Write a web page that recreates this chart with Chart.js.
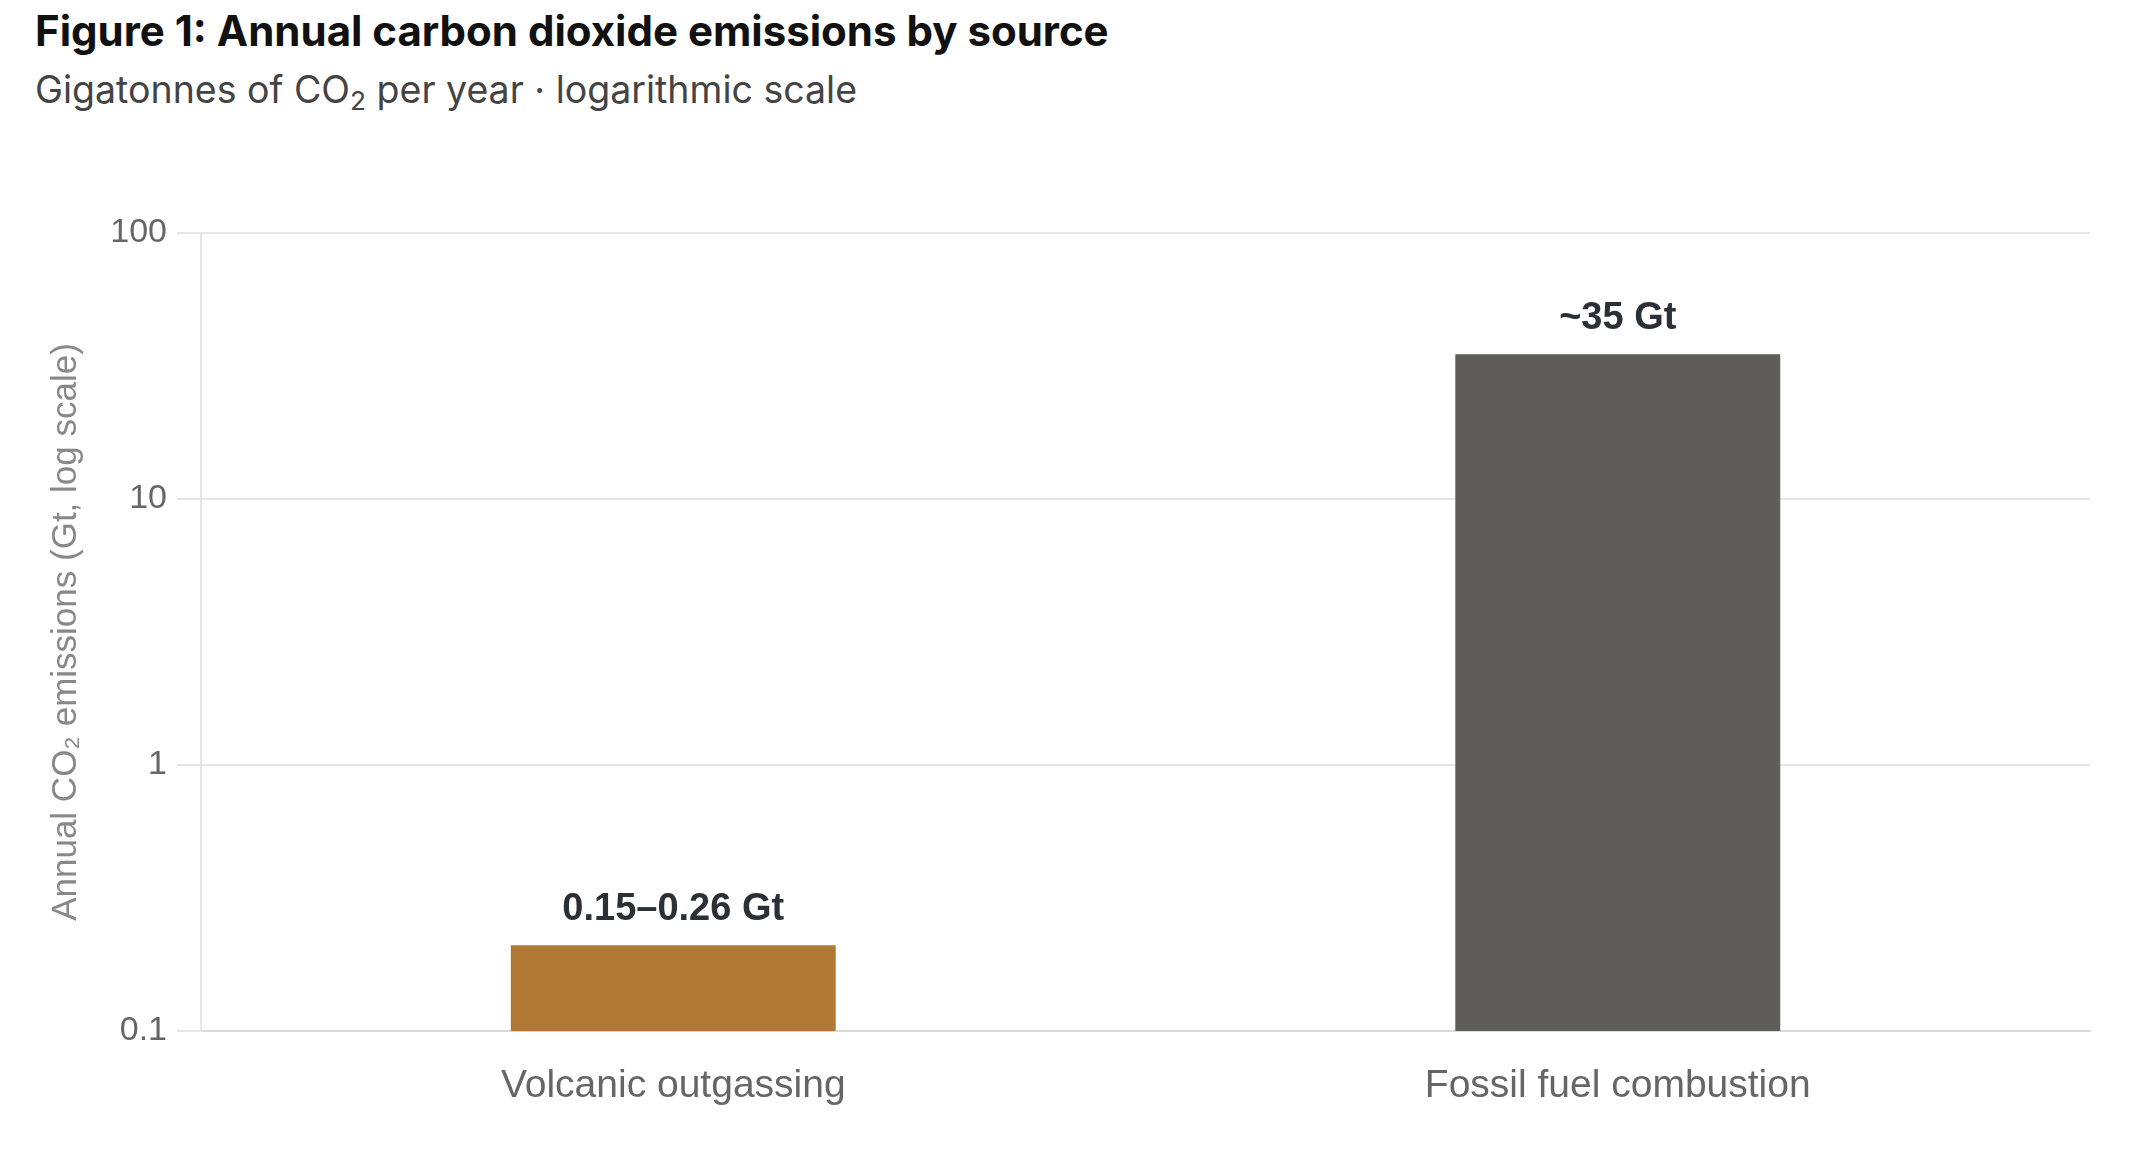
<!DOCTYPE html>
<html>
<head>
<meta charset="utf-8">
<title>Annual carbon dioxide emissions by source</title>
<script src="https://cdn.jsdelivr.net/npm/chart.js@4.4.1/dist/chart.umd.min.js"></script>
<style>
  html, body { margin: 0; padding: 0; background: #fff; }
  body { width: 2144px; height: 1172px; position: relative; overflow: hidden; }
  #chart { position: absolute; left: 0; top: 0; }
  .head { position: absolute; left: 35px; white-space: nowrap; font-family: Inter, "Liberation Sans", sans-serif; }
  #title { top: 10px; font-size: 42px; line-height: 42px; font-weight: 700; color: #111; }
  #subtitle { top: 71px; font-size: 37.5px; line-height: 37.5px; color: #444; }
  #subtitle sub { font-size: 0.7em; vertical-align: -0.25em; line-height: 0; }
</style>
</head>
<body>
<div class="head" id="title">Figure 1: Annual carbon dioxide emissions by source</div>
<div class="head" id="subtitle">Gigatonnes of CO<sub>2</sub> per year · logarithmic scale</div>
<canvas id="chart" width="2144" height="1172"></canvas>
<script>
// Valores (Gt CO2 por ano)
const categories = ['Volcanic outgassing', 'Fossil fuel combustion'];
const emissions = [0.21, 35];
const barLabels = ['0.15–0.26 Gt', '~35 Gt'];
const barColors = ['#b07832', '#5e5d58'];
const yTicks = [0.1, 1, 10, 100];

// Rótulo em negrito acima de cada barra
const barLabelPlugin = {
    id: 'barLabels',
    afterDatasetsDraw(chart) {
        const ctx = chart.ctx;
        const meta = chart.getDatasetMeta(0);
        ctx.save();
        ctx.font = '700 38px "Liberation Sans", Arial, sans-serif';
        ctx.fillStyle = '#2b2f36';
        ctx.textAlign = 'center';
        ctx.textBaseline = 'alphabetic';
        meta.data.forEach((bar, i) => {
            ctx.fillText(barLabels[i], bar.x, bar.y - 25);
        });
        ctx.restore();
    }
};

new Chart(document.getElementById('chart'), {
    type: 'bar',
    data: {
        labels: categories,
        datasets: [{
            data: emissions,
            backgroundColor: barColors,
            borderWidth: 0,
            barPercentage: 0.344,
            categoryPercentage: 1
        }]
    },
    options: {
        responsive: false,
        devicePixelRatio: 1,
        animation: false,
        layout: { padding: { left: 0, right: 54, top: 233, bottom: 0 } },
        plugins: {
            legend: { display: false },
            tooltip: { enabled: false }
        },
        scales: {
            x: {
                grid: { display: false },
                border: { display: true, color: '#dadada', width: 2 },
                ticks: {
                    color: '#666',
                    font: { family: '"Liberation Sans", Arial, sans-serif', size: 39 },
                    padding: 24,
                    maxRotation: 0
                },
                afterFit(scale) { scale.height = 141; }
            },
            y: {
                type: 'logarithmic',
                min: 0.1,
                max: 100,
                afterBuildTicks(scale) {
                    scale.ticks = yTicks.map(v => ({ value: v }));
                },
                afterFit(scale) { scale.width = 201; },
                grid: { color: '#e6e6e6', lineWidth: 2, tickLength: 24 },
                border: { display: true, color: '#e6e6e6', width: 2 },
                ticks: {
                    color: '#666',
                    font: { family: '"Liberation Sans", Arial, sans-serif', size: 34 },
                    padding: 10,
                    callback: (value) => String(Number(value))
                },
                title: {
                    display: true,
                    text: 'Annual CO₂ emissions (Gt, log scale)',
                    color: '#888',
                    font: { family: '"Liberation Sans", Arial, sans-serif', size: 35 },
                    padding: { top: 45, bottom: 0 }
                }
            }
        }
    },
    plugins: [barLabelPlugin]
});
</script>
</body>
</html>
